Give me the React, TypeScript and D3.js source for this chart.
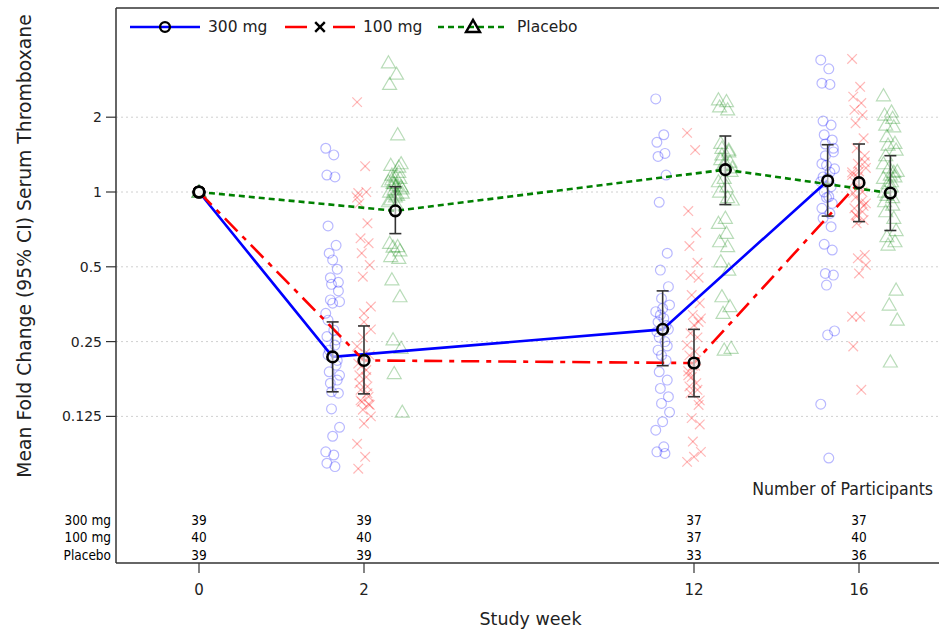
import React from "react";
import * as d3 from "d3";

// study visits and where they sit on the (discrete) axis
const weeks = ["0", "2", "12", "16"];
const weekSlot = [0, 1, 3, 4];
const groups = ["300 mg", "100 mg", "Placebo"];

// geometric means and 95% CI per visit
const mean300 = [1, 0.217, 0.28, 1.11];
const lo300 = [1, 0.157, 0.2, 0.8];
const hi300 = [1, 0.3, 0.4, 1.55];
const mean100 = [1, 0.21, 0.205, 1.09];
const lo100 = [1, 0.154, 0.15, 0.76];
const hi100 = [1, 0.289, 0.28, 1.56];
const meanPbo = [1, 0.84, 1.23, 0.99];
const loPbo = [1, 0.68, 0.89, 0.7];
const hiPbo = [1, 1.05, 1.68, 1.4];

// participants per visit
const n300 = [39, 39, 37, 37];
const n100 = [40, 40, 37, 40];
const nPbo = [39, 39, 33, 36];

// individual fold changes
const ind300w0 = [1, 1, 1];
const ind300w2 = [1.5, 1.41, 1.17, 1.15, 0.73, 0.61, 0.567, 0.489, 0.452, 0.433, 0.425, 0.362, 0.357, 0.325, 0.278, 0.262, 0.242, 0.221, 0.201, 0.189, 0.175, 0.17, 0.155, 0.134, 0.113, 0.104, 0.09, 0.0874, 0.081, 0.0785, 0.305, 0.254, 0.231, 0.21, 0.368, 0.4, 0.157, 0.183, 0.533];
const ind300w12 = [2.37, 1.7, 1.585, 1.43, 1.39, 1.17, 0.909, 0.567, 0.485, 0.416, 0.373, 0.351, 0.34, 0.33, 0.31, 0.274, 0.25, 0.231, 0.21, 0.189, 0.175, 0.162, 0.15, 0.141, 0.13, 0.119, 0.11, 0.0943, 0.09, 0.0887, 0.3, 0.29, 0.26, 0.24, 0.32, 0.28, 0.22];
const ind300w16 = [3.4, 3.13, 2.74, 2.71, 1.93, 1.86, 1.7, 1.62, 1.56, 1.45, 1.28, 1.24, 1.135, 1.1, 0.957, 0.86, 0.82, 0.784, 0.725, 0.616, 0.584, 0.47, 0.463, 0.422, 0.276, 0.266, 0.14, 0.085, 1.3, 1.2, 1.15, 1.05, 1.0, 0.9, 1.4, 1.5, 0.95];
const ind100w0 = [1, 1, 1];
const ind100w2 = [2.3, 1.27, 0.99, 1.0, 0.9, 0.748, 0.651, 0.622, 0.567, 0.508, 0.456, 0.346, 0.325, 0.239, 0.224, 0.204, 0.192, 0.183, 0.165, 0.16, 0.15, 0.143, 0.139, 0.133, 0.125, 0.117, 0.097, 0.086, 0.077, 0.18, 0.17, 0.155, 0.145, 0.14, 0.2, 0.22, 0.26, 0.28, 0.3, 0.95];
const ind100w12 = [1.73, 1.475, 0.838, 0.686, 0.606, 0.519, 0.463, 0.452, 0.385, 0.357, 0.32, 0.31, 0.291, 0.242, 0.228, 0.183, 0.17, 0.165, 0.16, 0.155, 0.139, 0.123, 0.116, 0.099, 0.09, 0.086, 0.082, 0.2, 0.19, 0.21, 0.22, 0.26, 0.27, 0.3, 0.18, 0.145, 0.2];
const ind100w16 = [3.43, 2.65, 2.42, 2.28, 2.14, 2.04, 1.89, 1.645, 1.5, 1.32, 1.3, 1.25, 1.21, 1.17, 1.07, 0.99, 0.914, 0.86, 0.833, 0.808, 0.771, 0.748, 0.558, 0.541, 0.508, 0.47, 0.315, 0.315, 0.239, 0.16, 1.1, 1.0, 0.95, 0.88, 0.8, 1.4, 1.15, 0.9, 1.05, 1.2];
const indPbow0 = [1, 1, 1];
const indPbow2 = [3.31, 2.98, 2.71, 1.7, 1.28, 1.26, 1.17, 1.135, 1.084, 1.05, 1.02, 0.99, 0.957, 0.914, 0.886, 0.622, 0.603, 0.55, 0.541, 0.443, 0.379, 0.254, 0.235, 0.186, 0.13, 1.15, 1.1, 1.06, 1.0, 0.97, 0.93, 1.2, 1.12, 0.58, 0.6, 1.3, 1.08, 1.03, 0.98];
const indPbow12 = [2.35, 2.31, 2.2, 2.14, 1.57, 1.475, 1.41, 1.32, 1.28, 1.21, 1.135, 0.929, 0.784, 0.748, 0.682, 0.631, 0.603, 0.524, 0.485, 0.379, 0.346, 0.325, 0.235, 0.231, 1.25, 1.3, 1.1, 1.05, 1.0, 0.95, 1.35, 1.45, 1.5];
const indPbow16 = [2.44, 2.1, 2.04, 1.98, 1.86, 1.83, 1.67, 1.57, 1.545, 1.475, 1.25, 1.21, 1.17, 1.135, 1.1, 0.914, 0.886, 0.833, 0.784, 0.661, 0.631, 0.612, 0.403, 0.351, 0.305, 0.207, 1.3, 1.05, 1.0, 0.95, 1.4, 1.2, 0.97, 1.15, 1.08, 0.7];

const yTicks = [0.125, 0.25, 0.5, 1, 2];

const W = 939;
const H = 629;
const left = 116;
const top = 8;
const right = 945;
const bottom = 563;
const FONT = "'DejaVu Sans', Verdana, sans-serif";
const NARROW = "'Liberation Sans Narrow', 'DejaVu Sans Condensed', 'Arial Narrow', sans-serif";

const x = d3.scaleLinear().domain([0, 4]).range([199, 859]);
const y = d3.scaleLog().base(2).domain([0.0625, 4]).range([491.2, 42.4]);

const series = [
  { name: groups[0], color: "#0000ff", dash: "none", mean: mean300, lo: lo300, hi: hi300, ind: [ind300w0, ind300w2, ind300w12, ind300w16], dodge: -0.19, shape: "circle" },
  { name: groups[1], color: "#ff0000", dash: "18,7,5,7", mean: mean100, lo: lo100, hi: hi100, ind: [ind100w0, ind100w2, ind100w12, ind100w16], dodge: 0, shape: "x" },
  { name: groups[2], color: "#008000", dash: "6,4", mean: meanPbo, lo: loPbo, hi: hiPbo, ind: [indPbow0, indPbow2, indPbow12, indPbow16], dodge: 0.19, shape: "tri" },
];
const counts = [n300, n100, nPbo];

const xAt = (s: any, wi: number) => x(weekSlot[wi] + (wi === 0 ? 0 : s.dodge));
const jitter = (i: number) => (((i * 7) % 13) - 6) * 1.15;
const tri = d3.symbol(d3.symbolTriangle, 85)();

function Marker({ shape, cx, cy, color, opacity, sw }: any) {
  if (shape === "circle")
    return <circle cx={cx} cy={cy} r={4.9} fill="none" stroke={color} strokeOpacity={opacity} strokeWidth={sw} />;
  if (shape === "x")
    return (
      <g transform={`translate(${cx},${cy})`} stroke={color} strokeOpacity={opacity} strokeWidth={sw}>
        <line x1={-4.8} y1={-4.8} x2={4.8} y2={4.8} />
        <line x1={-4.8} y1={4.8} x2={4.8} y2={-4.8} />
      </g>
    );
  return <path d={tri!} transform={`translate(${cx},${cy + 1})`} fill="none" stroke={color} strokeOpacity={opacity} strokeWidth={sw} />;
}

export default function App() {
  const line = (s: any) =>
    d3.line<number>().x((_, i) => xAt(s, i)).y((d) => y(d))(s.mean);

  return (
    <svg width={W} height={H} style={{ position: "absolute", left: 0, top: 0, background: "#fff" }}>
      {/* grid */}
      {yTicks.map((t) => (
        <line key={t} x1={left} x2={right} y1={y(t)} y2={y(t)} stroke="#d0d0d0" strokeDasharray="2,3" strokeWidth={1} />
      ))}

      {/* individual values */}
      {series.map((s) =>
        s.ind.map((vals, wi) =>
          vals.map((v, i) => (
            <Marker key={`${s.name}-${wi}-${i}`} shape={s.shape} cx={xAt(s, wi) + (wi === 0 ? 0 : jitter(i))} cy={y(v)} color={s.color} opacity={0.28} sw={1.2} />
          ))
        )
      )}

      {/* mean lines */}
      {series.map((s) => (
        <path key={s.name} d={line(s)!} fill="none" stroke={s.color} strokeWidth={2.6} strokeDasharray={s.dash} />
      ))}

      {/* error bars + means */}
      {series.map((s) =>
        s.mean.map((m, wi) => {
          const cx = xAt(s, wi);
          return (
            <g key={`${s.name}-e-${wi}`}>
              {wi > 0 && (
                <g stroke="#333" strokeWidth={1.6}>
                  <line x1={cx} x2={cx} y1={y(s.lo[wi])} y2={y(s.hi[wi])} />
                  <line x1={cx - 6} x2={cx + 6} y1={y(s.lo[wi])} y2={y(s.lo[wi])} />
                  <line x1={cx - 6} x2={cx + 6} y1={y(s.hi[wi])} y2={y(s.hi[wi])} />
                </g>
              )}
              <circle cx={cx} cy={y(m)} r={5.3} fill="#fff" fillOpacity={0.6} stroke="#000" strokeWidth={2.6} />
            </g>
          );
        })
      )}

      {/* frame */}
      <line x1={left} x2={left} y1={top} y2={bottom} stroke="#333" strokeWidth={1.5} />
      <line x1={left} x2={right} y1={top} y2={top} stroke="#333" strokeWidth={1.5} />
      <line x1={left} x2={right} y1={bottom} y2={bottom} stroke="#333" strokeWidth={1.5} />

      {/* y axis */}
      {yTicks.map((t) => (
        <g key={`yt${t}`}>
          <line x1={left - 10} x2={left} y1={y(t)} y2={y(t)} stroke="#333" strokeWidth={1.2} />
          <text x={left - 14} y={y(t)} dy="0.35em" textAnchor="end" fontFamily={FONT} fontSize={14} fill="#222">
            {t}
          </text>
        </g>
      ))}
      <text transform={`translate(31,246) rotate(-90)`} textAnchor="middle" fontFamily={FONT} fontSize={18.8} fill="#222">
        Mean Fold Change (95% CI) Serum Thromboxane
      </text>

      {/* x axis */}
      {weeks.map((w, i) => (
        <g key={`xt${w}`}>
          <line x1={x(weekSlot[i])} x2={x(weekSlot[i])} y1={bottom} y2={bottom + 10} stroke="#333" strokeWidth={1.2} />
          <text x={x(weekSlot[i])} y={590} dy="0.35em" textAnchor="middle" fontFamily={FONT} fontSize={15} fill="#222">
            {w}
          </text>
        </g>
      ))}
      <text x={(left + right) / 2} y={619} dy="0.35em" textAnchor="middle" fontFamily={FONT} fontSize={17.5} fill="#222">
        Study week
      </text>

      {/* participants table */}
      <text x={933} y={489} dy="0.35em" textAnchor="end" fontFamily={NARROW} fontSize={17.5} fill="#222">
        Number of Participants
      </text>
      {groups.map((g, gi) => (
        <g key={`row${g}`} fontFamily={NARROW} fontSize={13.5} fill="#000">
          <text x={111} y={520 + gi * 17.5} dy="0.35em" textAnchor="end">
            {g}
          </text>
          {counts[gi].map((c, wi) => (
            <text key={wi} x={x(weekSlot[wi])} y={520 + gi * 17.5} dy="0.35em" textAnchor="middle">
              {c}
            </text>
          ))}
        </g>
      ))}

      {/* legend */}
      {series.map((s, i) => {
        const lx = [130, 285, 438][i];
        const tx = [208, 363, 517][i];
        return (
          <g key={`lg${s.name}`}>
            <line x1={lx} x2={lx + 70} y1={27} y2={27} stroke={s.color} strokeWidth={2.6} strokeDasharray={i === 1 ? "22,26" : s.dash} />
            <Marker shape={s.shape} cx={lx + 35} cy={27} color="#000" opacity={1} sw={2.4} />
            <text x={tx} y={27} dy="0.35em" fontFamily={FONT} fontSize={15.5} fill="#222">
              {s.name}
            </text>
          </g>
        );
      })}
    </svg>
  );
}
